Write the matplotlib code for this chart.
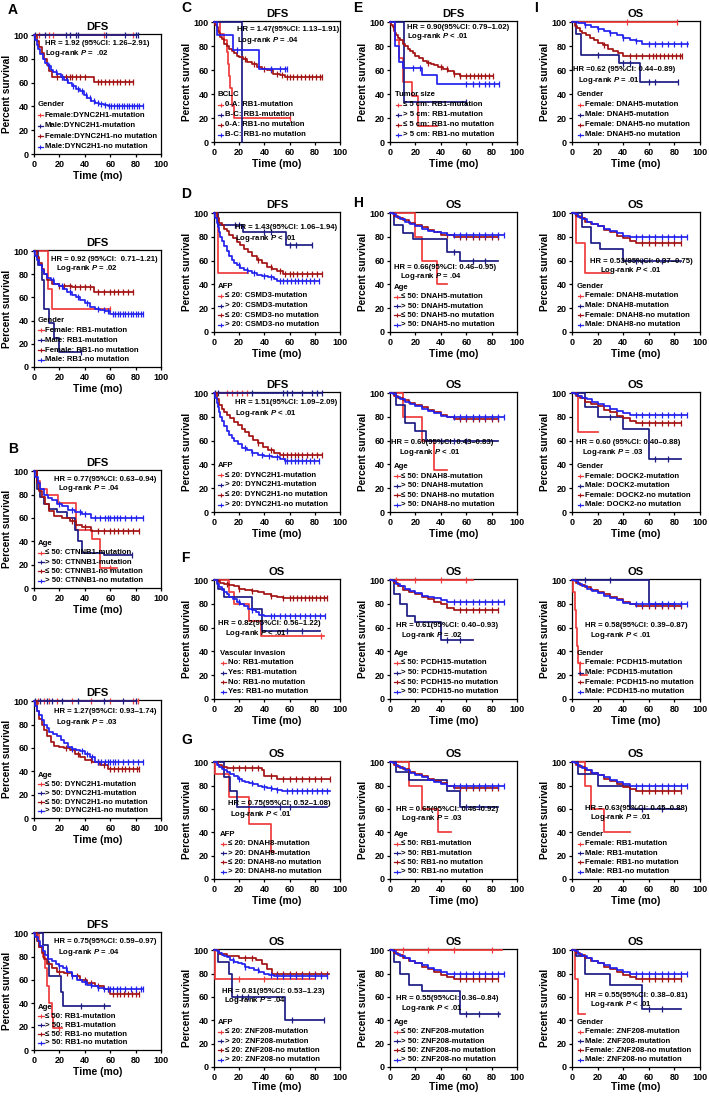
import matplotlib
matplotlib.use('Agg')
import matplotlib.pyplot as plt
from matplotlib.lines import Line2D

plt.rcParams['font.family'] = ['Liberation Sans', 'DejaVu Sans']
plt.rcParams['font.weight'] = 'bold'
plt.rcParams['mathtext.fontset'] = 'custom'
plt.rcParams['mathtext.it'] = 'Liberation Sans:italic:bold'
plt.rcParams['mathtext.rm'] = 'Liberation Sans:bold'
plt.rcParams['mathtext.bf'] = 'Liberation Sans:bold'

# ---------------- colours (style) ----------------
LR, NV, DR, BL = '#f03a3a', '#1c1c84', '#a31212', '#2222ee'
COLORS = [LR, NV, DR, BL]

# ---------------- data: each curve = (step times, survival %, censor times, last time) -------------
A1_title, A1_group = 'DFS', 'Gender'
A1_labels = ['Female:DYNC2H1-mutation', 'Male:DYNC2H1-mutation', 'Female:DYNC2H1-no mutation', 'Male:DYNC2H1-no mutation']
A1_hr, A1_p = 'HR = 1.92 (95%CI: 1.26–2.91)', 'Log-rank $P$ =  .02'
A1_curves = [
    ([0], [100], [4, 12, 15, 55, 78], 78),
    ([0], [100], [1, 9, 25, 28, 33, 35, 57, 72, 80, 82], 82),
    ([0, 2, 4, 6, 8, 10, 12, 14, 47], [100, 95, 90, 85, 80, 75, 70, 65, 61],
     [18, 22, 25, 28, 30, 33, 36, 40, 50, 53, 56, 59, 62, 65, 68, 72, 75, 78], 78),
    ([0, 1, 2, 3, 5, 7, 9, 11, 13, 15, 18, 21, 24, 27, 30, 33, 36, 39, 42, 45, 48, 51, 55, 58],
     [100, 96, 92, 88, 84, 80, 77, 74, 71, 69, 67, 65, 62, 60, 57, 55, 53, 50, 47, 45, 43, 42, 41, 40],
     [12, 17, 22, 26, 31, 35, 38, 41, 44, 47, 50, 53, 56, 59, 61, 63, 65, 67, 69, 71, 73, 75, 77, 79, 81, 83, 86], 86),
]

A2_title, A2_group = 'DFS', 'Gender'
A2_labels = ['Female: RB1-mutation', 'Male: RB1-mutation', 'Female: RB1-no mutation', 'Male: RB1-no mutation']
A2_hr, A2_p = 'HR = 0.92 (95%CI:  0.71–1.21)', 'Log-rank $P$ = .02'
A2_curves = [
    ([0, 11, 14], [100, 67, 50], [60], 60),
    ([0, 3, 6, 8, 12, 16, 20], [100, 88, 75, 50, 38, 25, 13], [37], 37),
    ([0, 2, 4, 6, 8, 10, 14, 20, 30, 47], [100, 95, 90, 85, 80, 75, 72, 70, 69, 65],
     [20, 24, 28, 32, 36, 40, 44, 50, 55, 60, 63, 66, 70, 74, 78], 78),
    ([0, 1, 2, 4, 6, 8, 10, 13, 16, 20, 23, 26, 30, 33, 36, 40, 44, 48, 52, 56, 60],
     [100, 96, 92, 88, 84, 80, 77, 75, 72, 70, 67, 65, 62, 60, 58, 55, 52, 50, 49, 48, 46],
     [15, 22, 28, 35, 42, 50, 55, 58, 62, 64, 66, 68, 70, 72, 74, 76, 78, 80, 82, 84, 86], 86),
]

B1_title, B1_group = 'DFS', 'Age'
B1_labels = ['≤ 50: CTNNB1-mutation', '> 50: CTNNB1-mutation', '≤ 50: CTNNB1-no mutation', '> 50: CTNNB1-no mutation']
B1_hr, B1_p = 'HR = 0.77(95%CI: 0.63–0.94)', 'Log-rank $P$ = .04'
B1_curves = [
    ([0, 2, 5, 10, 19, 33, 46, 52], [100, 92, 85, 80, 73, 50, 42, 17], [60], 65),
    ([0, 2, 5, 8, 12, 18, 26, 32, 35, 38, 55], [100, 85, 78, 72, 68, 65, 60, 50, 40, 30, 28], [77], 77),
    ([0, 2, 4, 6, 9, 12, 16, 22, 28, 33, 38, 45], [100, 90, 83, 78, 72, 66, 62, 60, 57, 54, 52, 49],
     [30, 40, 50, 55, 60, 63, 66, 70, 74, 78, 83], 83),
    ([0, 1, 3, 5, 8, 11, 14, 18, 22, 27, 32, 38, 45], [100, 95, 90, 85, 80, 77, 75, 72, 70, 67, 65, 63, 60],
     [20, 30, 36, 40, 48, 52, 56, 58, 60, 63, 65, 68, 72, 76, 80, 86], 86),
]

B2_title, B2_group = 'DFS', 'Age'
B2_labels = ['≤ 50: DYNC2H1-mutation', '> 50: DYNC2H1-mutation', '≤ 50: DYNC2H1-no mutation', '> 50: DYNC2H1-no mutation']
B2_hr, B2_p = 'HR = 1.27(95%CI: 0.93–1.74)', 'Log-rank $P$ = .03'
B2_curves = [
    ([0], [100], [3, 8, 12, 18, 30, 45, 60, 78, 82], 82),
    ([0], [100], [1, 5, 10, 14, 22, 35, 55, 70, 80], 80),
    ([0, 2, 4, 6, 8, 10, 13, 16, 20, 24, 28, 32, 36, 40, 46, 52, 58],
     [100, 92, 85, 80, 75, 70, 65, 62, 61, 60, 58, 55, 52, 50, 48, 45, 42],
     [25, 35, 45, 50, 55, 60, 63, 66, 69, 72, 75, 78, 81, 83], 83),
    ([0, 1, 2, 4, 6, 8, 10, 12, 15, 18, 21, 24, 27, 30, 33, 36, 40, 44, 48],
     [100, 96, 92, 88, 84, 80, 77, 74, 72, 70, 67, 64, 61, 59, 58, 57, 55, 52, 48],
     [30, 38, 42, 46, 50, 53, 56, 58, 60, 62, 64, 66, 70, 74, 78, 82, 86], 86),
]

B3_title, B3_group = 'DFS', 'Age'
B3_labels = ['≤ 50: RB1-mutation', '> 50: RB1-mutation', '≤ 50: RB1-no mutation', '> 50: RB1-no mutation']
B3_hr, B3_p = 'HR = 0.75(95%CI: 0.59–0.97)', 'Log-rank $P$ = .04'
B3_curves = [
    ([0, 4, 7, 9, 10, 12, 14, 15], [100, 88, 80, 70, 55, 40, 28, 19], [20], 22),
    ([0, 7, 11, 12, 21, 23], [100, 90, 75, 63, 50, 38], [37, 55], 60),
    ([0, 2, 4, 6, 8, 10, 14, 18, 24, 30, 36, 42, 48, 55, 60],
     [100, 93, 88, 83, 78, 74, 70, 67, 66, 63, 60, 57, 55, 52, 48],
     [20, 26, 34, 40, 45, 50, 58, 62, 65, 68, 71, 74, 77, 80, 83], 83),
    ([0, 1, 3, 5, 7, 9, 11, 14, 17, 20, 23, 26, 30, 34, 38, 42, 46, 50, 55],
     [100, 97, 93, 89, 85, 81, 78, 76, 74, 72, 70, 67, 63, 60, 58, 56, 55, 53, 52],
     [20, 25, 30, 40, 45, 50, 55, 58, 60, 62, 65, 68, 72, 76, 80, 84, 86], 86),
]

C_title, C_group = 'DFS', 'BCLC'
C_labels = ['0-A: RB1-mutation', 'B-C: RB1-mutation', '0-A: RB1-no mutation', 'B-C: RB1-no mutation']
C_hr, C_p = 'HR = 1.47(95%CI: 1.13–1.91)', 'Log-rank $P$ = .04'
C_curves = [
    ([0, 5, 8, 10, 11, 12, 13, 14, 16], [100, 90, 85, 75, 65, 55, 45, 30, 20], [60], 60),
    ([0, 22.5], [100, 0], [], 22.5),
    ([0, 1, 2, 3, 4, 5, 6, 8, 10, 12, 14, 16, 18, 20, 23, 26, 30, 34, 38, 42, 47, 52, 56],
     [100, 98, 96, 93, 91, 88, 86, 82, 80, 78, 76, 74, 72, 71, 69, 67, 65, 63, 61, 60, 57, 56, 54],
     [25, 32, 40, 45, 50, 54, 58, 60, 63, 66, 69, 72, 75, 78, 81, 84, 86], 86),
    ([0, 2, 15, 36], [100, 89, 77, 61], [18, 45, 52, 56, 58], 58),
]

D1_title, D1_group = 'DFS', 'AFP'
D1_labels = ['≤ 20: CSMD3-mutation', '> 20: CSMD3-mutation', '≤ 20: CSMD3-no mutation', '> 20: CSMD3-no mutation']
D1_hr, D1_p = 'HR = 1.43(95%CI: 1.06–1.94)', 'Log-rank $P$ < .01'
D1_curves = [
    ([0, 3], [100, 50], [], 27),
    ([0, 3, 23, 57], [100, 90, 84, 73], [17, 20, 40, 45, 60, 65, 78], 78),
    ([0, 2, 4, 6, 8, 10, 12, 15, 18, 21, 24, 27, 30, 34, 38, 42, 46, 50, 55],
     [100, 96, 92, 90, 87, 85, 82, 79, 76, 73, 70, 67, 64, 61, 58, 55, 53, 51, 49],
     [35, 45, 52, 56, 60, 63, 66, 70, 74, 78, 82, 86], 86),
    ([0, 1, 2, 3, 4, 5, 6, 8, 10, 12, 14, 16, 18, 21, 24, 27, 30, 34, 38, 43, 48, 50],
     [100, 96, 92, 88, 84, 80, 77, 72, 68, 64, 61, 58, 56, 54, 52, 51, 50, 48, 47, 46, 45, 43],
     [20, 26, 32, 40, 45, 52, 55, 58, 61, 64, 67, 70, 73, 76, 79, 83], 83),
]

D2_title, D2_group = 'DFS', 'AFP'
D2_labels = ['≤ 20: DYNC2H1-mutation', '> 20: DYNC2H1-mutation', '≤ 20: DYNC2H1-no mutation', '> 20: DYNC2H1-no mutation']
D2_hr, D2_p = 'HR = 1.51(95%CI: 1.09–2.09)', 'Log-rank $P$ < .01'
D2_curves = [
    ([0], [100], [10, 14, 18, 22, 26], 28),
    ([0], [100], [1, 3, 30, 55, 58, 62, 70, 78, 82, 86], 86),
    ([0, 2, 4, 6, 8, 10, 13, 16, 19, 22, 25, 28, 31, 35, 39, 43, 48, 52],
     [100, 95, 90, 87, 84, 82, 79, 76, 73, 70, 67, 64, 61, 58, 55, 52, 50, 48],
     [35, 45, 55, 58, 61, 64, 67, 70, 74, 78, 82, 86], 86),
    ([0, 1, 2, 3, 4, 5, 6, 8, 10, 12, 14, 16, 19, 22, 26, 30, 35, 40, 46, 52, 56],
     [100, 96, 92, 88, 84, 80, 77, 72, 68, 65, 62, 60, 57, 54, 52, 50, 48, 47, 46, 45, 43],
     [25, 30, 38, 44, 50, 56, 58, 61, 64, 67, 70, 73, 76, 79, 83], 83),
]

F_title, F_group = 'OS', 'Vascular invasion'
F_labels = ['No: RB1-mutation', 'Yes: RB1-mutation', 'No: RB1-no mutation', 'Yes: RB1-no mutation']
F_hr, F_p = 'HR = 0.82(95%CI: 0.56–1.22)', 'Log-rank $P$ < .01'
F_curves = [
    ([0, 12, 16, 28, 37], [100, 90, 80, 66, 53], [85], 87),
    ([0, 3, 8, 30, 38], [100, 93, 86, 76, 57], [58, 70], 84),
    ([0, 2, 5, 8, 12, 16, 20, 25, 30, 35, 40, 45, 50, 55],
     [100, 99, 98, 97, 96, 95, 93, 92, 91, 90, 88, 87, 86, 85],
     [10, 20, 30, 45, 55, 60, 63, 66, 69, 72, 75, 78, 81, 84, 87, 90], 90),
    ([0, 2, 4, 6, 8, 10, 12, 15, 18, 21, 24, 27, 30, 33, 36, 40],
     [100, 97, 94, 92, 90, 88, 86, 84, 82, 80, 78, 76, 75, 73, 71, 70],
     [20, 30, 45, 48, 52, 56, 60, 64, 68, 72, 76, 80, 84, 88], 88),
]

G1_title, G1_group = 'OS', 'AFP'
G1_labels = ['≤ 20: DNAH8-mutation', '> 20: DNAH8-mutation', '≤ 20: DNAH8-no mutation', '> 20: DNAH8-no mutation']
G1_hr, G1_p = 'HR = 0.75(95%CI: 0.52–1.08)', 'Log-rank $P$ < .01'
G1_curves = [
    ([0, 1, 12, 28, 45], [100, 90, 70, 47, 23], [], 48),
    ([0, 8, 13, 18], [100, 87, 75, 62], [52, 60], 90),
    ([0, 3, 6, 10, 38, 40, 50], [100, 98, 96, 95, 93, 88, 86],
     [15, 20, 25, 30, 35, 45, 55, 60, 65, 70, 75, 80, 85, 92], 92),
    ([0, 2, 4, 6, 8, 10, 13, 16, 19, 22, 25, 28, 31, 35, 38, 42, 46, 50, 54],
     [100, 98, 96, 94, 93, 92, 90, 88, 86, 84, 83, 82, 81, 80, 79, 78, 77, 76, 75],
     [20, 30, 40, 45, 50, 58, 62, 66, 70, 74, 78, 82, 86, 90], 92),
]

G2_title, G2_group = 'OS', 'AFP'
G2_labels = ['≤ 20: ZNF208-mutation', '> 20: ZNF208-mutation', '≤ 20: ZNF208-no mutation', '> 20: ZNF208-no mutation']
G2_hr, G2_p = 'HR = 0.81(95%CI: 0.53–1.23)', 'Log-rank $P$ = .04'
G2_curves = [
    ([0, 1], [100, 75], [20, 40], 80),
    ([0, 3, 12, 14, 56], [100, 90, 80, 60, 40], [18, 22, 27, 62, 87], 87),
    ([0, 4, 10, 20, 33, 38, 42, 46], [100, 97, 95, 93, 92, 88, 84, 80],
     [25, 30, 50, 55, 60, 65, 70, 75, 80, 85, 90], 91),
    ([0, 2, 4, 6, 8, 10, 13, 16, 19, 22, 25, 28, 32, 36, 40, 44, 48],
     [100, 99, 98, 96, 95, 94, 92, 90, 89, 88, 86, 85, 83, 81, 80, 79, 78],
     [15, 25, 35, 45, 50, 55, 60, 65, 70, 75, 80, 85, 90], 90),
]

E_title, E_group = 'DFS', 'Tumor size'
E_labels = ['≤ 5 cm: RB1-mutation', '> 5 cm: RB1-mutation', '≤ 5 cm: RB1-no mutation', '> 5 cm: RB1-no mutation']
E_hr, E_p = 'HR = 0.90(95%CI: 0.79–1.02)', 'Log-rank $P$ < .01'
E_curves = [
    ([0, 4, 7, 10, 17, 22], [100, 85, 70, 50, 38, 13], [], 37),
    ([0, 11], [100, 33], [60], 60),
    ([0, 1, 2, 3, 4, 5, 6, 8, 10, 12, 14, 16, 18, 20, 23, 26, 29, 32, 35, 38, 42, 46, 50, 55],
     [100, 98, 96, 93, 91, 89, 87, 85, 82, 80, 78, 76, 74, 72, 70, 68, 66, 65, 64, 63, 61, 59, 57, 55],
     [30, 40, 45, 50, 55, 60, 63, 66, 69, 72, 75, 78, 81], 81),
    ([0, 4, 7, 10, 25, 37], [100, 80, 67, 62, 56, 48], [18, 24, 60, 65, 70, 75, 78, 82, 86], 86),
]

H1_title, H1_group = 'OS', 'Age'
H1_labels = ['≤ 50: DNAH5-mutation', '> 50: DNAH5-mutation', '≤ 50: DNAH5-no mutation', '> 50: DNAH5-no mutation']
H1_hr, H1_p = 'HR = 0.66(95%CI: 0.46–0.95)', 'Log-rank $P$ = .04'
H1_curves = [
    ([0, 20, 25, 37], [100, 80, 60, 40], [], 45),
    ([0, 3, 10, 18, 45, 55], [100, 90, 83, 78, 67, 60], [50, 65, 75], 85),
    ([0, 3, 6, 10, 15, 20, 25, 30, 35, 40, 50], [100, 98, 96, 94, 92, 90, 88, 86, 84, 82, 80],
     [45, 55, 60, 65, 70, 75, 80, 85], 85),
    ([0, 2, 5, 8, 12, 16, 20, 25, 30, 35, 40, 45], [100, 99, 97, 95, 93, 91, 89, 87, 85, 84, 83, 82],
     [50, 55, 60, 65, 70, 75, 80, 85, 90], 90),
]

H2_title, H2_group = 'OS', 'Age'
H2_labels = ['≤ 50: DNAH8-mutation', '> 50: DNAH8-mutation', '≤ 50: DNAH8-no mutation', '> 50: DNAH8-no mutation']
H2_hr, H2_p = 'HR = 0.60(95%CI: 0.43–0.83)', 'Log-rank $P$ < .01'
H2_curves = [
    ([0, 10, 25, 35], [100, 80, 60, 35], [], 45),
    ([0, 5, 12, 20, 28], [100, 90, 75, 68, 60], [40, 50, 60], 85),
    ([0, 3, 6, 10, 15, 20, 25, 30, 35, 40, 45, 50], [100, 98, 96, 94, 92, 90, 88, 86, 84, 82, 80, 78],
     [55, 60, 65, 70, 75, 80, 85], 85),
    ([0, 2, 5, 8, 12, 16, 20, 25, 30, 35, 40, 45], [100, 99, 97, 95, 93, 91, 89, 87, 85, 83, 81, 80],
     [50, 55, 60, 65, 70, 75, 80, 85, 90], 90),
]

H3_title, H3_group = 'OS', 'Age'
H3_labels = ['≤ 50: PCDH15-mutation', '> 50: PCDH15-mutation', '≤ 50: PCDH15-no mutation', '> 50: PCDH15-no mutation']
H3_hr, H3_p = 'HR = 0.61(95%CI: 0.40–0.93)', 'Log-rank $P$ = .02'
H3_curves = [
    ([0], [100], [5, 20, 40, 60], 65),
    ([0, 3, 8, 13, 20, 40], [100, 88, 80, 70, 65, 50], [45, 55], 65),
    ([0, 3, 6, 10, 15, 20, 25, 30, 35, 40, 45, 50], [100, 98, 95, 92, 90, 88, 86, 84, 82, 80, 77, 75],
     [55, 60, 65, 70, 75, 80, 85], 85),
    ([0, 2, 5, 8, 12, 16, 20, 25, 30, 35, 40, 45], [100, 99, 97, 95, 93, 91, 89, 87, 86, 85, 83, 82],
     [50, 55, 60, 65, 70, 75, 80, 85, 90], 90),
]

H4_title, H4_group = 'OS', 'Age'
H4_labels = ['≤ 50: RB1-mutation', '> 50: RB1-mutation', '≤ 50: RB1-no mutation', '> 50: RB1-no mutation']
H4_hr, H4_p = 'HR = 0.65(95%CI: 0.46–0.92)', 'Log-rank $P$ = .03'
H4_curves = [
    ([0, 15, 25, 38], [100, 80, 60, 40], [], 48),
    ([0, 5, 15, 45, 55], [100, 92, 85, 75, 62], [60, 70], 85),
    ([0, 3, 6, 10, 15, 20, 25, 30, 35, 40, 45, 50], [100, 98, 96, 94, 92, 90, 88, 86, 84, 82, 80, 78],
     [55, 60, 65, 70, 75, 80, 85], 85),
    ([0, 2, 5, 8, 12, 16, 20, 25, 30, 35, 40, 45], [100, 99, 97, 95, 93, 91, 89, 87, 85, 83, 81, 80],
     [50, 55, 60, 65, 70, 75, 80, 85, 90], 90),
]

H5_title, H5_group = 'OS', 'Age'
H5_labels = ['≤ 50: ZNF208-mutation', '> 50: ZNF208-mutation', '≤ 50: ZNF208-no mutation', '> 50: ZNF208-no mutation']
H5_hr, H5_p = 'HR = 0.55(95%CI: 0.36–0.84)', 'Log-rank $P$ < .01'
H5_curves = [
    ([0], [100], [10, 30, 50, 80], 88),
    ([0, 3, 8, 15, 25, 55], [100, 90, 80, 70, 65, 45], [60, 70, 85], 87),
    ([0, 3, 6, 10, 15, 20, 25, 30, 35, 40, 45, 50], [100, 98, 96, 93, 91, 89, 86, 84, 81, 79, 77, 75],
     [55, 60, 65, 70, 75, 80, 85], 85),
    ([0, 2, 5, 8, 12, 16, 20, 25, 30, 35, 40, 45], [100, 99, 97, 95, 93, 91, 89, 87, 85, 83, 81, 80],
     [50, 55, 60, 65, 70, 75, 80, 85, 90], 90),
]

I1_title, I1_group = 'OS', 'Gender'
I1_labels = ['Female: DNAH5-mutation', 'Male: DNAH5-mutation', 'Female: DNAH5-no mutation', 'Male: DNAH5-no mutation']
I1_hr, I1_p = 'HR =0.62 (95%CI: 0.44–0.89)', 'Log-rank $P$ = .01'
I1_curves = [
    ([0], [100], [43, 82], 82),
    ([0, 3, 7, 37, 53], [100, 90, 73, 66, 50], [20, 40, 45, 60, 65, 83], 83),
    ([0, 2, 4, 6, 8, 11, 14, 17, 20, 24, 28, 32, 36, 40],
     [100, 97, 95, 93, 91, 89, 87, 85, 83, 81, 78, 76, 74, 72],
     [25, 45, 50, 55, 60, 63, 66, 69, 72, 75, 78, 81, 84, 86], 86),
    ([0, 5, 10, 15, 20, 25, 30, 35, 40, 45, 50, 55], [100, 99, 98, 96, 94, 93, 91, 89, 87, 85, 84, 82],
     [10, 20, 30, 40, 50, 60, 65, 70, 75, 80, 85, 90], 91),
]

I2_title, I2_group = 'OS', 'Gender'
I2_labels = ['Female: DNAH8-mutation', 'Male: DNAH8-mutation', 'Female: DNAH8-no mutation', 'Male: DNAH8-no mutation']
I2_hr, I2_p = 'HR = 0.53(95%CI: 0.37–0.75)', 'Log-rank $P$ < .01'
I2_curves = [
    ([0, 3, 10], [100, 75, 50], [], 30),
    ([0, 8, 15, 22, 40], [100, 88, 75, 70, 60], [50, 55, 70], 85),
    ([0, 3, 6, 10, 15, 20, 25, 30, 35, 40, 45, 50], [100, 98, 96, 93, 91, 89, 86, 84, 81, 79, 77, 75],
     [55, 60, 65, 70, 75, 80, 85], 85),
    ([0, 2, 5, 8, 12, 16, 20, 25, 30, 35, 40, 45], [100, 99, 97, 95, 93, 91, 89, 87, 85, 83, 81, 80],
     [50, 55, 60, 65, 70, 75, 80, 85, 90], 90),
]

I3_title, I3_group = 'OS', 'Gender'
I3_labels = ['Female: DOCK2-mutation', 'Male: DOCK2-mutation', 'Female: DOCK2-no mutation', 'Male: DOCK2-no mutation']
I3_hr, I3_p = 'HR = 0.60 (95%CI: 0.40–0.88)', 'Log-rank $P$ = .03'
I3_curves = [
    ([0, 5], [100, 67], [], 20),
    ([0, 10, 20, 40, 60], [100, 88, 80, 70, 45], [30, 65, 75], 85),
    ([0, 3, 6, 10, 15, 20, 25, 30, 35, 40, 45, 50], [100, 98, 96, 93, 91, 89, 86, 84, 81, 79, 77, 75],
     [55, 60, 65, 70, 75, 80, 85], 85),
    ([0, 2, 5, 8, 12, 16, 20, 25, 30, 35, 40, 45], [100, 99, 98, 96, 95, 93, 91, 89, 87, 85, 83, 82],
     [50, 55, 60, 65, 70, 75, 80, 85, 90], 90),
]

I4_title, I4_group = 'OS', 'Gender'
I4_labels = ['Female: PCDH15-mutation', 'Male: PCDH15-mutation', 'Female: PCDH15-no mutation', 'Male: PCDH15-no mutation']
I4_hr, I4_p = 'HR = 0.58(95%CI: 0.39–0.87)', 'Log-rank $P$ < .01'
I4_curves = [
    ([0, 1, 2, 3, 4, 5, 6], [100, 90, 75, 60, 45, 30, 20], [], 12),
    ([0, 60], [100, 80], [10, 30, 70], 80),
    ([0, 3, 6, 10, 15, 20, 25, 30, 35, 40, 45, 50], [100, 98, 96, 94, 92, 90, 88, 86, 84, 82, 80, 78],
     [55, 60, 65, 70, 75, 80, 85], 85),
    ([0, 2, 5, 8, 12, 16, 20, 25, 30, 35, 40, 45], [100, 99, 97, 95, 93, 91, 89, 87, 85, 83, 81, 80],
     [50, 55, 60, 65, 70, 75, 80, 85, 90], 90),
]

I5_title, I5_group = 'OS', 'Gender'
I5_labels = ['Female: RB1-mutation', 'Male: RB1-mutation', 'Female: RB1-no mutation', 'Male: RB1-no mutation']
I5_hr, I5_p = 'HR = 0.63(95%CI: 0.45–0.88)', 'Log-rank $P$ = .01'
I5_curves = [
    ([0, 10, 15, 25], [100, 80, 60, 40], [], 45),
    ([0, 5, 20, 45], [100, 90, 80, 60], [55, 70], 85),
    ([0, 3, 6, 10, 15, 20, 25, 30, 35, 40, 45, 50], [100, 98, 96, 93, 91, 89, 86, 84, 81, 79, 77, 75],
     [55, 60, 65, 70, 75, 80, 85], 85),
    ([0, 2, 5, 8, 12, 16, 20, 25, 30, 35, 40, 45], [100, 99, 97, 95, 93, 91, 89, 87, 85, 83, 81, 80],
     [50, 55, 60, 65, 70, 75, 80, 85, 90], 90),
]

I6_title, I6_group = 'OS', 'Gender'
I6_labels = ['Female: ZNF208-mutation', 'Male: ZNF208-mutation', 'Female: ZNF208-no mutation', 'Male: ZNF208-no mutation']
I6_hr, I6_p = 'HR = 0.55(95%CI: 0.38–0.81)', 'Log-rank $P$ < .01'
I6_curves = [
    ([0, 2, 5], [100, 75, 45], [], 10),
    ([0, 3, 10, 30, 55], [100, 95, 80, 70, 50], [60, 70], 85),
    ([0, 3, 6, 10, 15, 20, 25, 30, 35, 40, 45, 50], [100, 98, 96, 93, 91, 89, 86, 84, 81, 79, 77, 75],
     [55, 60, 65, 70, 75, 80, 85], 85),
    ([0, 2, 5, 8, 12, 16, 20, 25, 30, 35, 40, 45], [100, 99, 97, 95, 93, 91, 89, 87, 85, 83, 81, 80],
     [50, 55, 60, 65, 70, 75, 80, 85, 90], 90),
]

# ---------------- layout (pixels of the 709x1100 canvas) ----------------
W, H = 709, 1100
COLX = {1: (34, 161), 2: (214, 340), 3: (390, 517), 4: (572, 700)}
ROWY = {0: (21, 142), 1: (212, 332), 2: (392, 512), 3: (579, 699), 4: (761, 879), 5: (949, 1067)}
COL1Y = {'A1': (34, 154), 'A2': (250, 367), 'B1': (470, 588), 'B2': (700, 818), 'B3': (932, 1050)}

# key: (col, rowbox, hr xy, p xy, legend xy)
LAYOUT = {
    'A1': (1, COL1Y['A1'], (0.09, 0.92), (0.09, 0.84), (0.025, 0.41)),
    'A2': (1, COL1Y['A2'], (0.13, 0.92), (0.17, 0.84), (0.03, 0.40)),
    'B1': (1, COL1Y['B1'], (0.16, 0.92), (0.19, 0.84), (0.03, 0.38)),
    'B2': (1, COL1Y['B2'], (0.16, 0.90), (0.17, 0.81), (0.03, 0.36)),
    'B3': (1, COL1Y['B3'], (0.16, 0.92), (0.19, 0.83), (0.03, 0.36)),
    'C': (2, ROWY[0], (0.18, 0.93), (0.18, 0.84), (0.03, 0.39)),
    'D1': (2, ROWY[1], (0.17, 0.87), (0.17, 0.78), (0.03, 0.38)),
    'D2': (2, ROWY[2], (0.17, 0.91), (0.17, 0.82), (0.03, 0.39)),
    'F': (2, ROWY[3], (0.03, 0.63), (0.09, 0.55), (0.05, 0.38)),
    'G1': (2, ROWY[4], (0.11, 0.64), (0.13, 0.55), (0.05, 0.38)),
    'G2': (2, ROWY[5], (0.06, 0.64), (0.08, 0.56), (0.03, 0.38)),
    'E': (3, ROWY[0], (0.13, 0.95), (0.13, 0.87), (0.04, 0.39)),
    'H1': (3, ROWY[1], (0.03, 0.54), (0.08, 0.46), (0.03, 0.37)),
    'H2': (3, ROWY[2], (0.01, 0.58), (0.07, 0.50), (0.03, 0.38)),
    'H3': (3, ROWY[3], (0.05, 0.61), (0.09, 0.53), (0.03, 0.38)),
    'H4': (3, ROWY[4], (0.05, 0.59), (0.09, 0.51), (0.03, 0.38)),
    'H5': (3, ROWY[5], (0.05, 0.58), (0.09, 0.50), (0.03, 0.38)),
    'I1': (4, ROWY[0], (0.01, 0.60), (0.05, 0.51), (0.04, 0.39)),
    'I2': (4, ROWY[1], (0.14, 0.59), (0.22, 0.51), (0.04, 0.38)),
    'I3': (4, ROWY[2], (0.03, 0.58), (0.08, 0.50), (0.04, 0.38)),
    'I4': (4, ROWY[3], (0.10, 0.61), (0.14, 0.53), (0.04, 0.38)),
    'I5': (4, ROWY[4], (0.10, 0.60), (0.14, 0.52), (0.04, 0.38)),
    'I6': (4, ROWY[5], (0.10, 0.61), (0.14, 0.53), (0.04, 0.38)),
}

PANELS = {
    'A1': (A1_title, A1_group, A1_labels, A1_hr, A1_p, A1_curves),
    'A2': (A2_title, A2_group, A2_labels, A2_hr, A2_p, A2_curves),
    'B1': (B1_title, B1_group, B1_labels, B1_hr, B1_p, B1_curves),
    'B2': (B2_title, B2_group, B2_labels, B2_hr, B2_p, B2_curves),
    'B3': (B3_title, B3_group, B3_labels, B3_hr, B3_p, B3_curves),
    'C': (C_title, C_group, C_labels, C_hr, C_p, C_curves),
    'D1': (D1_title, D1_group, D1_labels, D1_hr, D1_p, D1_curves),
    'D2': (D2_title, D2_group, D2_labels, D2_hr, D2_p, D2_curves),
    'F': (F_title, F_group, F_labels, F_hr, F_p, F_curves),
    'G1': (G1_title, G1_group, G1_labels, G1_hr, G1_p, G1_curves),
    'G2': (G2_title, G2_group, G2_labels, G2_hr, G2_p, G2_curves),
    'E': (E_title, E_group, E_labels, E_hr, E_p, E_curves),
    'H1': (H1_title, H1_group, H1_labels, H1_hr, H1_p, H1_curves),
    'H2': (H2_title, H2_group, H2_labels, H2_hr, H2_p, H2_curves),
    'H3': (H3_title, H3_group, H3_labels, H3_hr, H3_p, H3_curves),
    'H4': (H4_title, H4_group, H4_labels, H4_hr, H4_p, H4_curves),
    'H5': (H5_title, H5_group, H5_labels, H5_hr, H5_p, H5_curves),
    'I1': (I1_title, I1_group, I1_labels, I1_hr, I1_p, I1_curves),
    'I2': (I2_title, I2_group, I2_labels, I2_hr, I2_p, I2_curves),
    'I3': (I3_title, I3_group, I3_labels, I3_hr, I3_p, I3_curves),
    'I4': (I4_title, I4_group, I4_labels, I4_hr, I4_p, I4_curves),
    'I5': (I5_title, I5_group, I5_labels, I5_hr, I5_p, I5_curves),
    'I6': (I6_title, I6_group, I6_labels, I6_hr, I6_p, I6_curves),
}

LETTERS = [('A', 8, 10), ('B', 8, 449), ('C', 181, 8), ('D', 181, 194), ('E', 353, 8),
           ('F', 181, 558), ('G', 181, 740), ('H', 353, 203), ('I', 534, 8)]

fig = plt.figure(figsize=(W / 100, H / 100), dpi=100)
fig.patch.set_facecolor('white')


def surv_at(t, s, c):
    v = s[0]
    for ti, si in zip(t, s):
        if ti <= c:
            v = si
    return v


DRAW_ORDER = [2, 3, 0, 1]
TXT = 5.6

for key, (title, group, labels, hr, pv, curves) in PANELS.items():
    col, (ytop, ybot), hr_xy, p_xy, leg_xy = LAYOUT[key]
    x0, x1 = COLX[col]
    ax = fig.add_axes([x0 / W, 1 - ybot / H, (x1 - x0) / W, (ybot - ytop) / H])
    for i in DRAW_ORDER:
        t, s, cens, end = curves[i]
        xs = list(t) + [end]
        ys = list(s) + [s[-1]]
        ax.step(xs, ys, where='post', color=COLORS[i], lw=1.25, clip_on=False, zorder=3 + i * 0.1)
        if cens:
            ax.plot(cens, [surv_at(t, s, c) for c in cens], ls='none', marker='|', ms=3.8,
                    mew=0.9, color=COLORS[i], clip_on=False, zorder=3 + i * 0.1)
    ax.set_xlim(0, 100)
    ax.set_ylim(0, 101)
    ax.set_xticks([0, 20, 40, 60, 80, 100])
    ax.set_yticks([0, 20, 40, 60, 80, 100])
    ax.tick_params(direction='out', length=2.5, width=0.9, pad=1.5, labelsize=6.5)
    for lbl in ax.get_xticklabels() + ax.get_yticklabels():
        lbl.set_fontweight('bold')
    for sp in ax.spines.values():
        sp.set_linewidth(0.9)
        sp.set_color('black')
    ax.set_title(title, fontsize=8, fontweight='bold', pad=3)
    lp = 0.5 if key in ('G2', 'H5', 'I6') else 2
    ax.set_xlabel('Time (mo)', fontsize=7.5, fontweight='bold', labelpad=lp)
    ax.set_ylabel('Percent survival', fontsize=7.3, fontweight='bold', labelpad=1)

    ax.text(hr_xy[0], hr_xy[1], hr, transform=ax.transAxes, fontsize=TXT, fontweight='bold',
            va='center', ha='left', zorder=6)
    ax.text(p_xy[0], p_xy[1], pv, transform=ax.transAxes, fontsize=TXT, fontweight='bold',
            va='center', ha='left', zorder=6)

    lx, ly = leg_xy
    dy = (ly - 0.06) / 4.0
    ax.text(lx, ly, group, transform=ax.transAxes, fontsize=TXT, fontweight='bold',
            va='center', ha='left', zorder=6)
    for j, lab in enumerate(labels):
        yy = ly - dy * (j + 1)
        ax.add_line(Line2D([lx + 0.005, lx + 0.045], [yy, yy], transform=ax.transAxes,
                           color=COLORS[j], lw=0.9, zorder=6))
        ax.add_line(Line2D([lx + 0.025], [yy], transform=ax.transAxes, color=COLORS[j],
                           marker='|', ms=2.5, mew=0.8, ls='none', zorder=6))
        ax.text(lx + 0.06, yy, lab, transform=ax.transAxes, fontsize=TXT, fontweight='bold',
                va='center', ha='left', zorder=6, clip_on=False)

for letter, px, py in LETTERS:
    fig.text(px / W, 1 - py / H, letter, fontsize=10, fontweight='bold', va='center', ha='left')

fig.savefig('out.png', dpi=100, facecolor='white')
